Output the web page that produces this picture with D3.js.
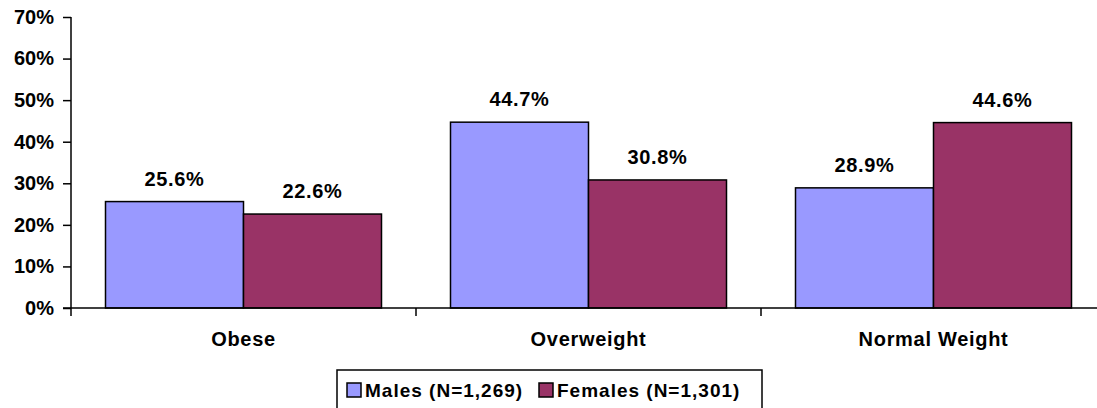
<!DOCTYPE html>
<html>
<head>
<meta charset="utf-8">
<script src="https://cdn.jsdelivr.net/npm/d3@7"></script>
<style>
  html, body { margin: 0; padding: 0; background: #fff; }
  svg { display: block; font-family: Arial, "Liberation Sans", sans-serif; font-weight: bold; }
</style>
</head>
<body>
<svg id="chart" width="1097" height="408"></svg>
<script>
// Weight status by sex
const categories = ["Obese", "Overweight", "Normal Weight"];
const seriesNames = ["Males (N=1,269)", "Females (N=1,301)"];
const males = [25.6, 44.7, 28.9];
const females = [22.6, 30.8, 44.6];
const yTicks = [0, 10, 20, 30, 40, 50, 60, 70];
const colors = ["#9999FF", "#993366"];

const svg = d3.select("#chart");
const plotLeft = 71, plotRight = 1106, plotTop = 17, plotBottom = 308;

const x = d3.scaleBand().domain(categories).range([plotLeft, plotRight]).paddingInner(0).paddingOuter(0);
const inner = d3.scaleBand().domain([0, 1]).range([0, x.bandwidth()]).paddingOuter(0.25).paddingInner(0);
const y = d3.scaleLinear().domain([0, 70]).range([plotBottom, plotTop]);

const series = [males, females];

// bars
const groups = svg.append("g").selectAll("g")
  .data(categories).join("g")
  .attr("transform", d => `translate(${x(d)},0)`);

groups.selectAll("rect")
  .data((d, i) => series.map((s, k) => ({ k, v: s[i] })))
  .join("rect")
  .attr("x", d => inner(d.k))
  .attr("width", inner.bandwidth())
  .attr("y", d => y(d.v))
  .attr("height", d => y(0) - y(d.v))
  .attr("fill", d => colors[d.k])
  .attr("stroke", "#000")
  .attr("stroke-width", 1.5);

groups.selectAll("text.val")
  .data((d, i) => series.map((s, k) => ({ k, v: s[i] })))
  .join("text")
  .attr("class", "val")
  .attr("x", d => inner(d.k) + inner.bandwidth() / 2)
  .attr("y", d => y(d.v) - 16)
  .attr("text-anchor", "middle")
  .attr("font-size", 20)
  .attr("letter-spacing", 0.7)
  .text(d => d.v.toFixed(1) + "%");

// y axis
const yAxis = d3.axisLeft(y).tickValues(yTicks).tickFormat(d => d + "%").tickSize(8).tickPadding(9);
const gy = svg.append("g").attr("transform", `translate(${plotLeft},0)`).call(yAxis);
gy.select(".domain").attr("d", `M0,${plotTop}V${plotBottom + 8}`).attr("stroke", "#000").attr("stroke-width", 1.5);
gy.selectAll(".tick line").attr("stroke", "#000").attr("stroke-width", 1.5);
gy.selectAll(".tick text").attr("font-size", 20).attr("font-family", "Arial, 'Liberation Sans', sans-serif").attr("font-weight", "bold").attr("fill", "#000");

// x axis
const xAxis = d3.axisBottom(x).tickSize(0).tickPadding(24);
const gx = svg.append("g").attr("transform", `translate(0,${plotBottom})`).call(xAxis);
gx.select(".domain").attr("d", `M${plotLeft - 8},0H${plotRight}`).attr("stroke", "#000").attr("stroke-width", 1.5);
gx.selectAll(".tick text").attr("font-size", 20).attr("letter-spacing", 0.7)
  .attr("font-family", "Arial, 'Liberation Sans', sans-serif").attr("font-weight", "bold").attr("fill", "#000");
gx.selectAll(".sep")
  .data(categories.slice(1)).join("line")
  .attr("class", "sep")
  .attr("x1", d => x(d)).attr("x2", d => x(d))
  .attr("y1", 0).attr("y2", 8)
  .attr("stroke", "#000").attr("stroke-width", 1.5);

// legend
const legend = svg.append("g");
legend.append("rect")
  .attr("x", 337).attr("y", 370).attr("width", 425).attr("height", 60)
  .attr("fill", "#fff").attr("stroke", "#000").attr("stroke-width", 1.5);
const legendX = [347, 539];
const items = legend.selectAll("g.item").data(seriesNames).join("g").attr("class", "item")
  .attr("transform", (d, i) => `translate(${legendX[i]},383)`);
items.append("rect").attr("width", 14).attr("height", 14)
  .attr("fill", (d, i) => colors[i]).attr("stroke", "#000").attr("stroke-width", 1.5);
items.append("text").attr("x", 18).attr("y", 14)
  .attr("font-size", 19).attr("letter-spacing", 1)
  .text(d => d);
</script>
</body>
</html>
